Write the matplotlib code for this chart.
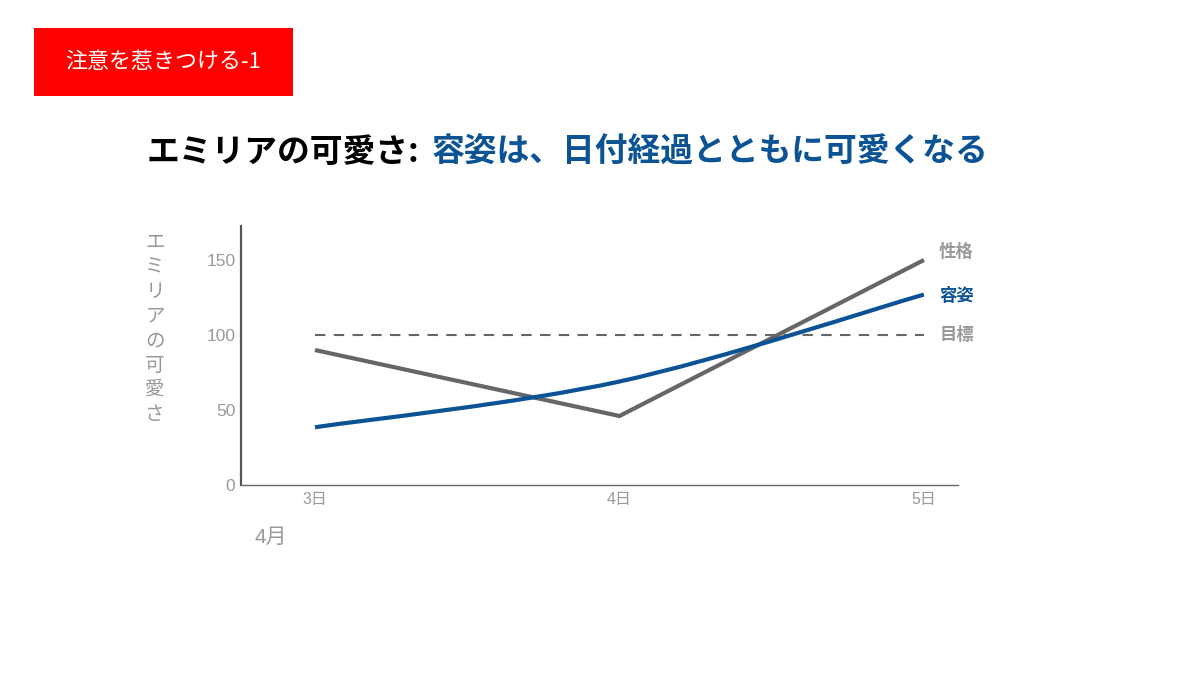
import matplotlib
matplotlib.use("Agg")
import matplotlib.pyplot as plt
from matplotlib.path import Path
from matplotlib.patches import PathPatch, Rectangle
import numpy as np

plt.rcParams['font.family'] = ['Liberation Sans', 'Noto Sans CJK JP', 'DejaVu Sans']

# ---- data ----
days = ["3日", "4日", "5日"]
month_label = "4月"
looks = [38.5, 69, 127]        # 容姿
personality = [90, 46, 150]    # 性格
target = 100                   # 目標
yticks = [0, 50, 100, 150]
series_names = ["性格", "容姿", "目標"]
ylabel = "エミリアの可愛さ"
title_black = "エミリアの可愛さ:"
title_blue = "容姿は、日付経過とともに可愛くなる"
badge = "注意を惹きつける-1"

BLUE = "#0b5394"
GRAY = "#666666"
LGRAY = "#999999"
CJK = ['Noto Sans CJK JP', 'DejaVu Sans']

fig = plt.figure(figsize=(12, 6.75), dpi=100)
W, H = 1200, 675

ax = fig.add_axes([241 / W, 1 - 485 / H, (958 - 241) / W, (485 - 226) / H])
x = np.arange(len(days))

# smooth curve (Catmull-Rom -> cubic Bezier) through data points
def smooth_path(xs, ys):
    pts = np.column_stack([xs, ys]).astype(float)
    n = len(pts)
    verts = [pts[0]]
    codes = [Path.MOVETO]
    for i in range(n - 1):
        p0 = pts[i - 1] if i > 0 else pts[i]
        p1 = pts[i]
        p2 = pts[i + 1]
        p3 = pts[i + 2] if i + 2 < n else pts[i + 1]
        c1 = p1 + (p2 - p0) / 6.0
        c2 = p2 - (p3 - p1) / 6.0
        verts += [c1, c2, p2]
        codes += [Path.CURVE4] * 3
    return Path(verts, codes)

ax.plot(x, personality, color=GRAY, lw=3, solid_capstyle='butt', zorder=3)
ax.add_patch(PathPatch(smooth_path(x, looks), facecolor='none', edgecolor=BLUE,
                       lw=3, capstyle='butt', zorder=4))
ax.plot([x[0], x[-1]], [target, target], color=GRAY, lw=1.5,
        dashes=(5, 4), zorder=2)

ax.set_xlim(-0.243, 2.112)
ax.set_ylim(0, 172.7)
ax.set_xticks(x)
ax.set_xticklabels(days)
ax.set_yticks(yticks)
ax.tick_params(axis='both', length=0, colors=LGRAY)
ax.tick_params(axis='y', labelsize=12.5, pad=4)
ax.tick_params(axis='x', labelsize=11.5, pad=5)
for s in ['top', 'right']:
    ax.spines[s].set_visible(False)
ax.spines['left'].set_color("#555555")
ax.spines['left'].set_linewidth(1.6)
ax.spines['bottom'].set_color("#666666")
ax.spines['bottom'].set_linewidth(1.0)

# end labels
label_kw = dict(fontsize=12.5, fontweight='bold', va='center', ha='left',
                family=CJK)
ax.annotate(series_names[0], (x[-1], personality[-1]), xytext=(11, 6),
            textcoords='offset points', color=LGRAY, **label_kw)
ax.annotate(series_names[1], (x[-1], looks[-1]), xytext=(11, -1),
            textcoords='offset points', color=BLUE, **label_kw)
ax.annotate(series_names[2], (x[-1], target), xytext=(11, 0),
            textcoords='offset points', color=LGRAY, **label_kw)

# vertical y label
fig.text(155 / W, 1 - 232 / H, "\n".join(ylabel), ha='center', va='top',
         fontsize=14, color=LGRAY, linespacing=1.22, family=CJK)

# month label
fig.text(271 / W, 1 - 537 / H, month_label, ha='center', va='center',
         fontsize=15, color=LGRAY)

# badge
fig.patches.append(Rectangle((34 / W, 1 - 96 / H), (293 - 34) / W, (96 - 28) / H,
                             transform=fig.transFigure, facecolor='#ff0000',
                             edgecolor='none', zorder=0))
fig.text(163 / W, 1 - 62 / H, badge, ha='center', va='center', fontsize=15.8,
         color='white', family=CJK)

# title
fig.text(147 / W, 1 - 152 / H, title_black, ha='left', va='center',
         fontsize=23.6, fontweight='bold', color='black', family=CJK)
fig.text(432 / W, 1 - 152 / H, title_blue, ha='left', va='center',
         fontsize=23.6, fontweight='bold', color=BLUE, family=CJK)

fig.savefig("out.png", dpi=100)
